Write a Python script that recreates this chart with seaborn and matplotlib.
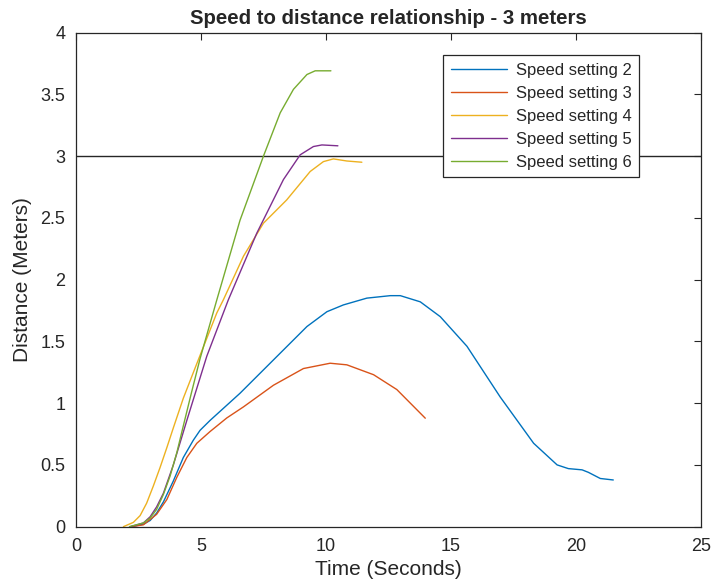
import numpy as np
import pandas as pd
import matplotlib
matplotlib.use("Agg")
import matplotlib.pyplot as plt
import seaborn as sns

# values, (time in s, distance in m)
t2 = [2.2, 2.68, 2.95, 3.21, 3.48, 3.88, 4.28, 4.68, 4.95, 5.35, 6.55, 7.89, 9.23, 10.03, 10.69,
      11.63, 12.57, 12.97, 13.77, 14.57, 15.64, 16.97, 18.31, 19.25, 19.7, 20.25, 20.5, 20.98, 21.5]
d2 = [0.0, 0.02, 0.05, 0.11, 0.20, 0.37, 0.56, 0.70, 0.78, 0.86, 1.08, 1.35, 1.62, 1.74, 1.795,
      1.85, 1.87, 1.87, 1.82, 1.70, 1.46, 1.05, 0.675, 0.50, 0.47, 0.46, 0.44, 0.39, 0.378]

t3 = [2.2, 2.68, 3.21, 3.62, 4.02, 4.42, 4.82, 5.35, 6.02, 6.69, 7.89, 9.09, 10.16, 10.83, 11.9, 12.83, 13.97]
d3 = [0.0, 0.015, 0.10, 0.22, 0.40, 0.56, 0.675, 0.77, 0.88, 0.97, 1.145, 1.28, 1.323, 1.31, 1.23, 1.11, 0.878]

t4 = [1.88, 2.28, 2.55, 2.81, 3.08, 3.35, 3.62, 3.88, 4.28, 4.82, 5.62, 5.88, 6.69, 7.49, 8.42,
      9.36, 9.89, 10.29, 10.83, 11.43]
d4 = [0.0, 0.035, 0.09, 0.19, 0.33, 0.48, 0.64, 0.80, 1.04, 1.32, 1.73, 1.835, 2.19, 2.457, 2.645,
      2.875, 2.955, 2.977, 2.96, 2.95]

t5 = [2.15, 2.68, 2.95, 3.21, 3.48, 3.62, 3.88, 4.15, 4.42, 5.22, 6.08, 7.22, 8.29, 8.96, 9.49, 9.83, 10.47]
d5 = [0.0, 0.03, 0.08, 0.16, 0.27, 0.35, 0.50, 0.68, 0.86, 1.38, 1.835, 2.375, 2.81, 3.01, 3.077, 3.09, 3.083]

t6 = [2.12, 2.68, 2.95, 3.21, 3.48, 3.75, 4.02, 4.26, 4.6, 4.95, 5.62, 6.55, 7.49, 8.16, 8.69, 9.23, 9.56, 10.19]
d6 = [0.0, 0.03, 0.07, 0.14, 0.26, 0.41, 0.60, 0.80, 1.08, 1.36, 1.835, 2.48, 3.0, 3.35, 3.54, 3.66, 3.69, 3.69]

labels = ["Speed setting 2", "Speed setting 3", "Speed setting 4", "Speed setting 5", "Speed setting 6"]
target = 3
colors = ["#0072BD", "#D95319", "#EDB120", "#7E2F8E", "#77AC30"]

frames = []
for lab, t, d in zip(labels, [t2, t3, t4, t5, t6], [d2, d3, d4, d5, d6]):
    frames.append(pd.DataFrame({"time": t, "dist": d, "setting": lab}))
df = pd.concat(frames, ignore_index=True)

sns.set_style("white")
plt.rcParams["font.family"] = ["Liberation Sans", "DejaVu Sans"]

fig = plt.figure(figsize=(7.12, 5.88), dpi=100)
ax = fig.add_axes([0.1074, 0.1043, 0.8767, 0.8404])

sns.lineplot(data=df, x="time", y="dist", hue="setting", palette=colors,
             sort=False, estimator=None, linewidth=1.0, ax=ax)
ax.axhline(target, color="#262626", linewidth=1.0, zorder=1)

ax.set_xlim(0, 25)
ax.set_ylim(0, 4)
ax.set_xticks([0, 5, 10, 15, 20, 25])
ax.set_yticks([0, 0.5, 1, 1.5, 2, 2.5, 3, 3.5, 4])
ax.set_yticklabels(["0", "0.5", "1", "1.5", "2", "2.5", "3", "3.5", "4"])
ax.tick_params(direction="in", length=5, width=0.8, top=True, right=True,
               labelsize=13, colors="#262626", pad=8)
for s in ax.spines.values():
    s.set_color("#262626")
    s.set_linewidth(0.9)

ax.set_xlabel("Time (Seconds)", fontsize=15, color="#262626", labelpad=4)
ax.set_ylabel("Distance (Meters)", fontsize=15, color="#262626", labelpad=6)
ax.set_title("Speed to distance relationship - 3 meters", fontsize=14.7,
             fontweight="bold", pad=6)

leg = ax.legend(loc="upper right", bbox_to_anchor=(0.901, 0.954), fontsize=12,
                frameon=True, fancybox=False, handlelength=3.4, borderpad=0.45,
                labelspacing=0.48, handletextpad=0.5, borderaxespad=0)
leg.get_frame().set_edgecolor("#262626")
leg.get_frame().set_linewidth(0.9)
leg.get_frame().set_alpha(1)

fig.savefig("out.png", dpi=100)
